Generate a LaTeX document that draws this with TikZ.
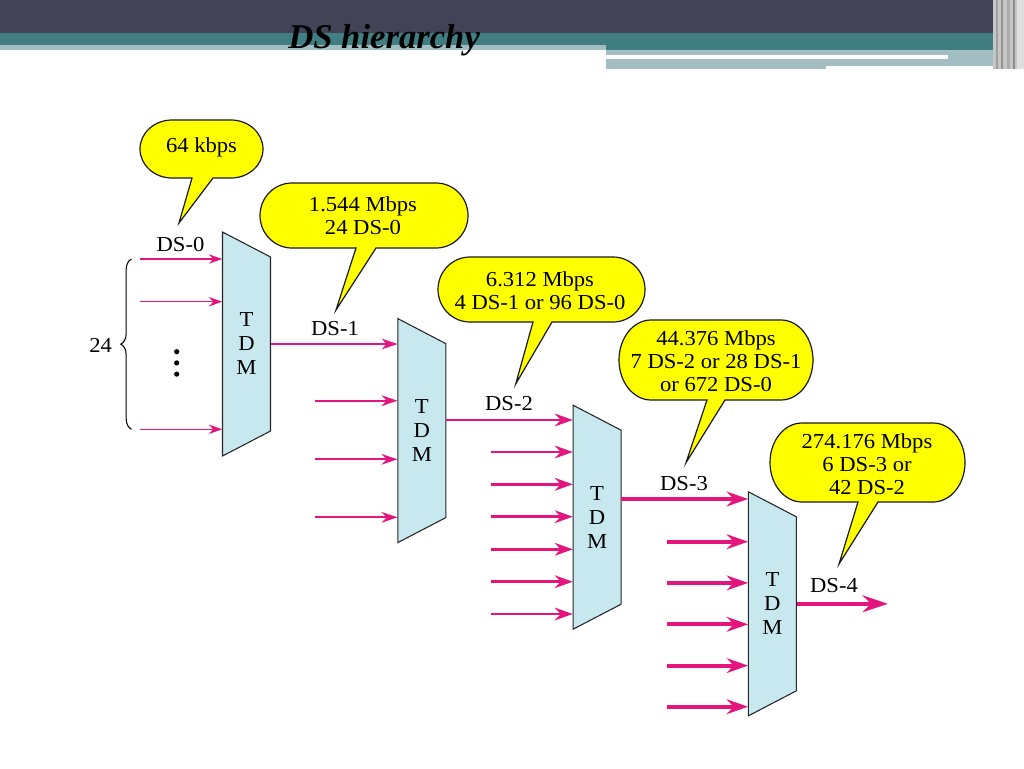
\documentclass[tikz,border=0pt]{standalone}
\usepackage{fontspec}
\setmainfont{Liberation Serif}
\newfontfamily\lblfont{Liberation Serif}[FakeStretch=1.06]
\usetikzlibrary{arrows.meta,decorations.pathreplacing}
\definecolor{hdark}{RGB}{66,67,86}
\definecolor{hteal}{RGB}{64,126,130}
\definecolor{hlight}{RGB}{162,190,195}
\definecolor{mag}{RGB}{228,22,126}
\definecolor{tdmfill}{RGB}{200,232,240}
\definecolor{bubfill}{RGB}{255,255,0}
\tikzset{
  lbl/.style={font=\lblfont\fontsize{16}{17.25}\selectfont, inner sep=0pt, align=center},
  tdmtext/.style={font=\lblfont\fontsize{16}{18}\selectfont, inner sep=0pt, align=center, minimum width=36pt, minimum height=168pt},
  tdmshape/.style={draw=black!85, line width=0.8pt, fill=tdmfill},
  bub/.style={draw=black!90, line width=0.9pt, fill=bubfill},
  sA/.style={draw=mag, line width=1.1pt, -{Stealth[length=10pt,width=7pt]}},
  sB/.style={draw=mag, line width=1.6pt, -{Stealth[length=12pt,width=8pt]}},
  sC/.style={draw=mag, line width=2.2pt, -{Stealth[length=13.5pt,width=9.5pt]}},
  sD/.style={draw=mag, line width=3pt, -{Stealth[length=16pt,width=11pt]}},
  sE/.style={draw=mag, line width=3.4pt, -{Stealth[length=19pt,width=12.5pt]}},
}
\newcommand{\tdmunit}[3]{%
  \draw[tdmshape] (#2-24,#3-112) -- (#2+24,#3-87) -- (#2+24,#3+87) -- (#2-24,#3+112) -- cycle;
  \node[tdmtext] (#1) at (#2,#3) {T\\D\\M};}
% L R T B base1 base2 tipx tipy
\newcommand{\callout}[8]{%
  \draw[bub] (#1+32,#3) -- (#2-32,#3)
    arc[start angle=270, end angle=450, x radius=32, y radius={(#4-#3)/2}]
    -- (#6,#4) -- (#7,#8) -- (#5,#4) -- (#1+32,#4)
    arc[start angle=90, end angle=270, x radius=32, y radius={(#4-#3)/2}] -- cycle;}
\begin{document}
\begin{tikzpicture}[x=0.75pt,y=-0.75pt]
\useasboundingbox (0,0) rectangle (1024,768);
\fill[white] (0,0) rectangle (1024,768);
% header
\fill[hdark] (0,0) rectangle (1024,33);
\fill[hteal] (0,33) rectangle (1024,45);
\fill[hteal] (606,45) rectangle (1024,50);
\fill[hlight] (0,45) rectangle (606,50);
\fill[hlight] (606,50) rectangle (1005,66);
\fill[hlight] (606,66) rectangle (826,69);
\fill[white] (606,55) rectangle (948,58.5);
\fill[gray!45] (993,0) rectangle (1024,69);
\fill[gray!75] (996,0) rectangle (997.5,69);
\fill[gray!85] (1001,0) rectangle (1002.5,69);
\fill[gray!65] (1007,0) rectangle (1009.5,69);
\fill[gray!90] (1013,0) rectangle (1014.5,69);
\fill[gray!25] (1017,0) rectangle (1024,69);
\node[anchor=base west, font=\fontsize{26}{30}\selectfont\bfseries\itshape, inner sep=0pt] (title) at (288,48) {DS hierarchy};

% TDM units
\tdmunit{t1}{246.5}{344}
\tdmunit{t2}{421.8}{430.6}
\tdmunit{t3}{597.1}{517.2}
\tdmunit{t4}{772.4}{603.8}

% stage 1 inputs
\coordinate (a1) at (140,259);
\coordinate (a2) at (140,301.7);
\coordinate (a3) at (140,429.3);
\draw[sA] (a1) -- (a1 -| t1.west);
\draw[sA] (a2) -- (a2 -| t1.west);
\draw[sA] (a3) -- (a3 -| t1.west);
\draw[decorate, decoration={brace, amplitude=8pt}, line width=0.8pt] (131.5,429.3) -- (131.5,259);
\node[lbl] (n24) at (100.7,345) {24};
\foreach \yy in {351.7,362.9,374.1}
  \fill (176.7,\yy) circle[radius=2.6];

% stage 2 inputs
\draw[sB] (t1.east) -- (t1.east -| t2.west);
\coordinate (b2) at (315,400.7);
\coordinate (b3) at (315,459.3);
\coordinate (b4) at (315,517.3);
\draw[sB] (b2) -- (b2 -| t2.west);
\draw[sB] (b3) -- (b3 -| t2.west);
\draw[sB] (b4) -- (b4 -| t2.west);

% stage 3 inputs
\coordinate (y2) at (0,420);
\draw[sC] (t2.east |- y2) -- (t3.west |- y2);
\foreach \yy [count=\k] in {452,484.3,516.7,549.3,581.7,614}{
  \coordinate (c\k) at (490.7,\yy);
  \draw[sC] (c\k) -- (c\k -| t3.west);}

% stage 4 inputs
\coordinate (y3) at (0,499);
\draw[sD] (t3.east |- y3) -- (t4.west |- y3);
\foreach \yy [count=\k] in {541.7,582.9,624.3,665.6,706.7}{
  \coordinate (e\k) at (666.7,\yy);
  \draw[sD] (e\k) -- (e\k -| t4.west);}

% output
\coordinate (out4) at (888,603.8);
\draw[sE] (t4.east) -- (out4);

% labels
\node[lbl] (ds0) at (180.5,244.5) {DS-0};
\node[lbl] (ds1) at (335,328.8) {DS-1};
\node[lbl] (ds2) at (509,403.8) {DS-2};
\node[lbl] (ds3) at (684,483.8) {DS-3};
\node[lbl] (ds4) at (834,585.8) {DS-4};

% callouts
\callout{140}{263}{120}{178}{192}{213}{179}{223}
\node[lbl] (c0) at (201.5,147) {64 kbps};
\callout{260}{468}{183}{248}{356}{376}{336}{310}
\node[lbl] (c1) at (363,216) {1.544 Mbps\\24 DS-0};
\callout{438}{645}{257}{322}{533}{552}{515.7}{384}
\node[lbl] (c2) at (540,291) {6.312 Mbps\\4 DS-1 or 96 DS-0};
\callout{619}{813}{320}{400}{707}{725}{686}{462.7}
\node[lbl] (c3) at (716,361) {44.376 Mbps\\7 DS-2 or 28 DS-1\\or 672 DS-0};
\callout{770}{965}{423}{502}{858}{878}{839}{564}
\node[lbl] (c4) at (867,464) {274.176 Mbps\\6 DS-3 or\\42 DS-2};
\end{tikzpicture}
\end{document}
